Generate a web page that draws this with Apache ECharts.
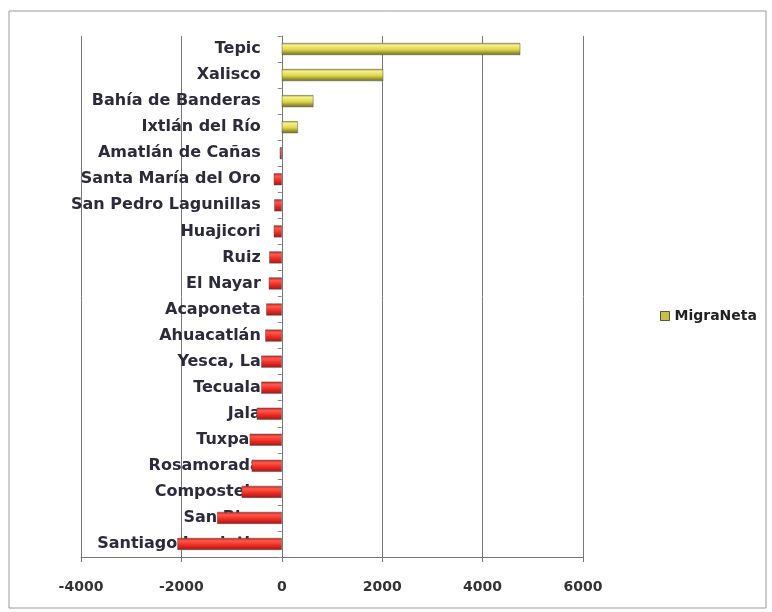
<!DOCTYPE html>
<html><head><meta charset="utf-8">
<script src="https://cdn.jsdelivr.net/npm/echarts@6/dist/echarts.min.js"></script>
<style>html,body{margin:0;padding:0;background:#fff}#c{width:772px;height:612px}</style>
</head><body><div id="c"></div>
<script>
const categories = ["Tepic","Xalisco","Bahía de Banderas","Ixtlán del Río","Amatlán de Cañas","Santa María del Oro","San Pedro Lagunillas","Huajicori","Ruiz","El Nayar","Acaponeta","Ahuacatlán","Yesca, La","Tecuala","Jala","Tuxpan","Rosamorada","Compostela","San Blas","Santiago Ixcuintla"];
const migraNeta = [4750, 2020, 630, 320, -40, -160, -150, -160, -250, -260, -310, -330, -410, -410, -500, -640, -600, -800, -1290, -2080];
const xTicks = [-4000, -2000, 0, 2000, 4000, 6000];
const seriesName = "MigraNeta";

const gridLeft = 81, gridRight = 189, W = 772;
const xMin = xTicks[0], xMax = xTicks[xTicks.length-1];
const zeroOffset = -((0 - xMin) / (xMax - xMin)) * (W - gridLeft - gridRight);

const yellow = new echarts.graphic.LinearGradient(0,0,0,1,[
  {offset:0,color:'#b8b030'},{offset:0.2,color:'#f4f08a'},{offset:0.55,color:'#ddd54a'},{offset:1,color:'#6e6a1c'}]);
const red = new echarts.graphic.LinearGradient(0,0,0,1,[
  {offset:0,color:'#c02020'},{offset:0.25,color:'#ff5a4a'},{offset:0.6,color:'#f02a22'},{offset:1,color:'#a01818'}]);

const chart = echarts.init(document.getElementById('c'));
chart.setOption({
  animation:false,
  backgroundColor:'#fff',
  graphic:[{type:'rect',z:-10,shape:{x:9,y:11,width:757,height:597},style:{fill:'none',stroke:'#9a9a9a',lineWidth:1}}],
  grid:{left:gridLeft,right:gridRight,top:36,bottom:55,containLabel:false,outerBoundsMode:'none'},
  legend:{show:true,left:655,top:304,orient:'vertical',itemWidth:9,itemHeight:9,itemGap:6,icon:'rect',
    textStyle:{fontFamily:'DejaVu Sans',fontWeight:'bold',fontSize:14,color:'#222'},
    itemStyle:{color:'#c8c040',borderColor:'#555',borderWidth:1},
    data:[seriesName]},
  xAxis:{type:'value',min:xMin,max:xMax,interval:2000,z:0,
    axisLine:{show:true,lineStyle:{color:'#777'}},
    axisTick:{show:true,length:5,inside:false,lineStyle:{color:'#777'}},
    axisLabel:{margin:23,fontFamily:'DejaVu Sans',fontWeight:'bold',fontSize:14,color:'#333',formatter:v=>String(v)},
    splitLine:{show:true,lineStyle:{color:'#7a7a7a',width:1}}},
  yAxis:{type:'category',data:categories,inverse:true,offset:zeroOffset,z:0,
    axisLine:{show:true,onZero:false,lineStyle:{color:'#777'}},
    axisTick:{show:true,length:4,lineStyle:{color:'#888'}},
    axisLabel:{margin:21,fontFamily:'DejaVu Sans',fontWeight:'bold',fontSize:16,color:'#2b2b3c'},
    splitLine:{show:false}},
  series:[{name:seriesName,type:'bar',barWidth:12,z:10,
    data:migraNeta.map(v=>({value:v,itemStyle:{color:v>=0?yellow:red}})),
    itemStyle:{borderColor:'#555',borderWidth:0.5}}]
});
</script></body></html>
